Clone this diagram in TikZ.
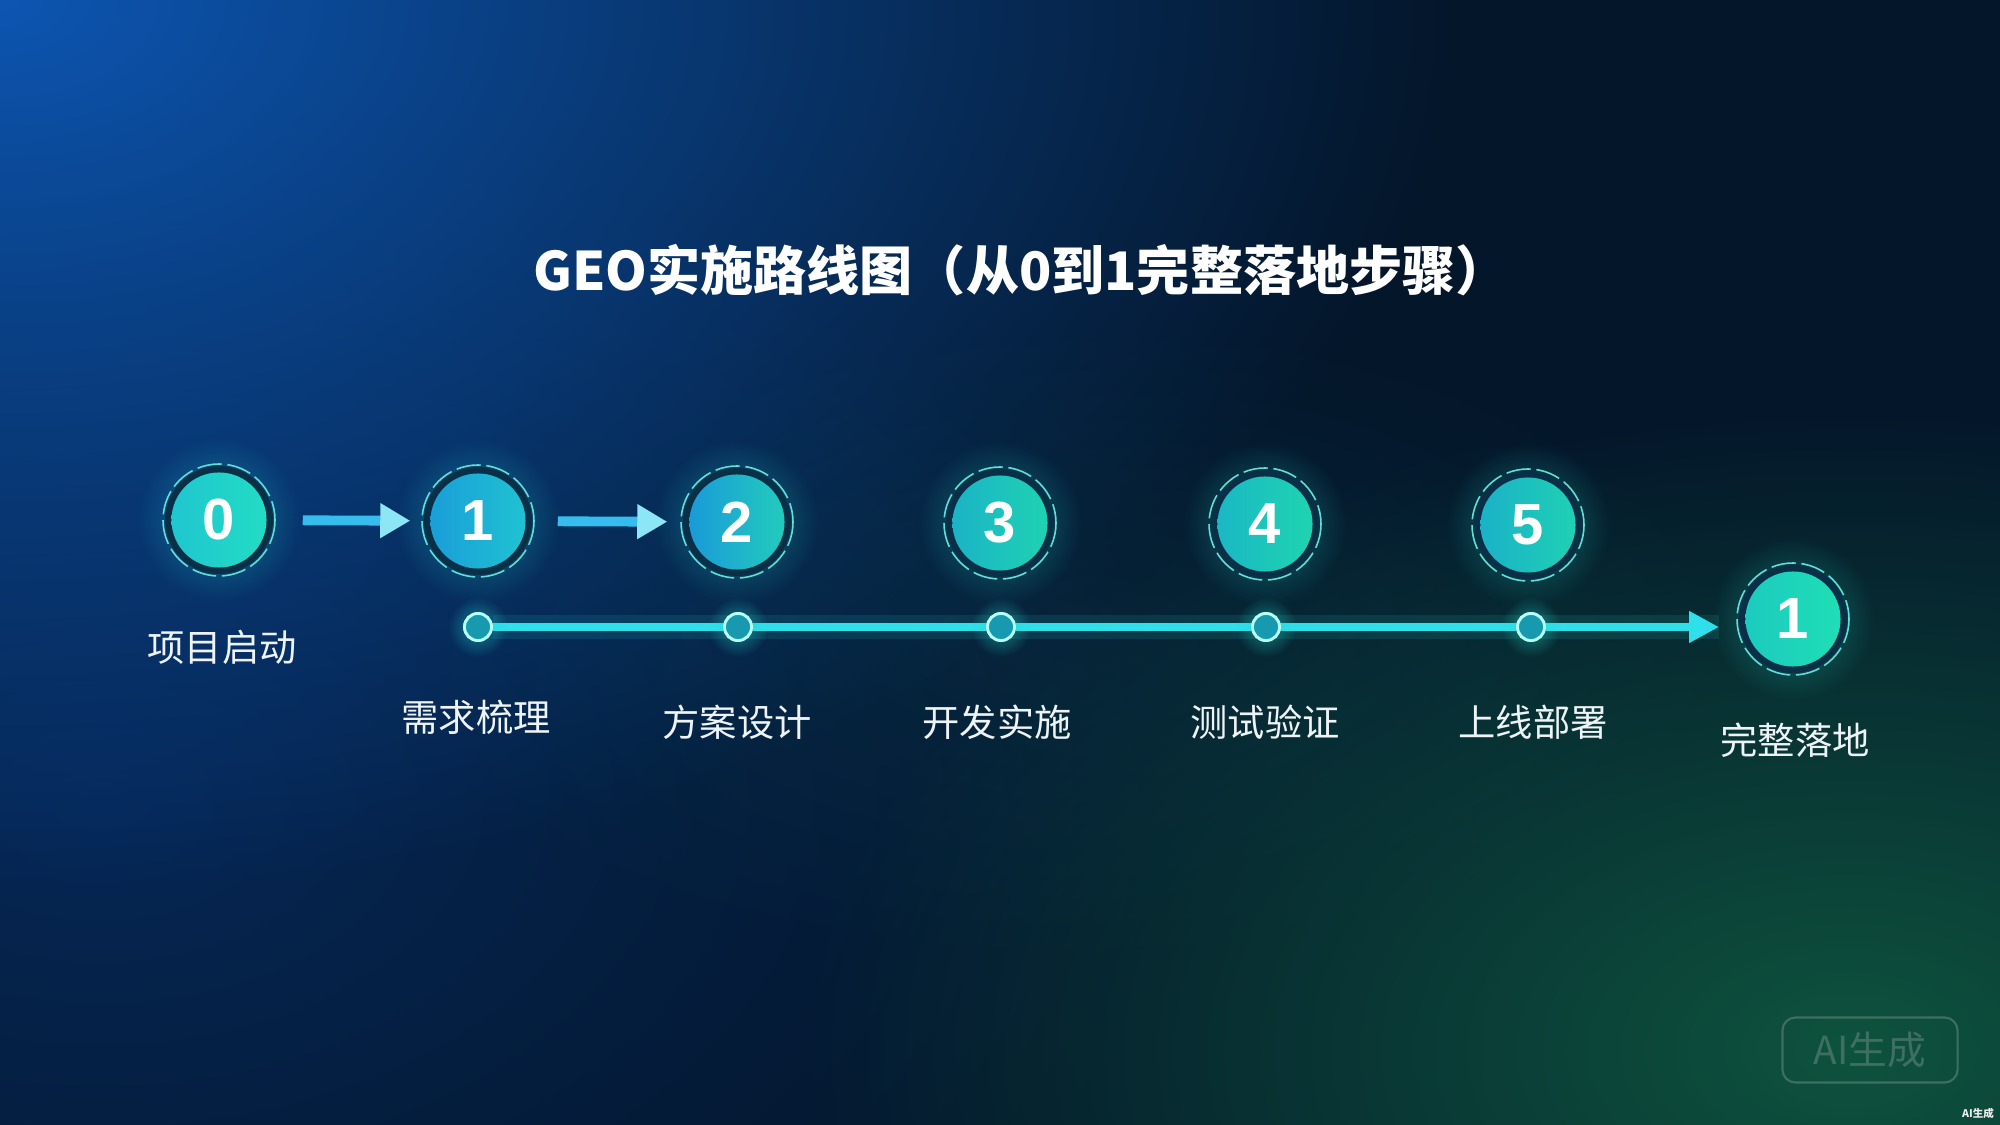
\documentclass[tikz,border=0pt]{standalone}
\usepackage{fontspec}
\setmainfont{Noto Sans CJK SC}
\newfontfamily\numfont{Liberation Sans}
\usetikzlibrary{fadings,arrows.meta,shadings}
\tikzfading[name=glowfade, inner color=transparent!0, outer color=transparent!100]
\definecolor{bgbase}{HTML}{04162A}
\definecolor{bgblue}{HTML}{0D56B2}
\definecolor{bgblue2}{HTML}{062B60}
\definecolor{bggreen}{HTML}{0F5A40}
\definecolor{bgteal}{HTML}{0B3E52}
\definecolor{ringdark}{HTML}{0A3048}
\definecolor{dashc}{HTML}{62DED6}
\definecolor{linec}{HTML}{2FE0EA}
\definecolor{glowc}{HTML}{22D8D0}
\definecolor{dotfill}{HTML}{179AB0}
\definecolor{dotring}{HTML}{B8FFF6}
\definecolor{labelc}{HTML}{EEF4F6}
\definecolor{wmark}{HTML}{3E6F60}
\definecolor{arrowc}{HTML}{36BDEE}
\definecolor{arrowhead}{HTML}{8CE6F6}
\tikzset{
  glow/.style={fill=glowc, path fading=glowfade, opacity=0.4},
  ringbg/.style={fill=ringdark},
  dashring/.style={draw=dashc, line width=0.45pt, dash pattern=on 7pt off 1.6pt},
  stepdisc/.style={circle, minimum size=0.95cm, inner sep=0pt, text=white,
     font=\numfont\bfseries\fontsize{16.5}{16.5}\selectfont},
  dotnode/.style={circle, minimum size=0.27cm, inner sep=0pt, fill=dotfill, draw=dotring, line width=0.8pt},
  steplabel/.style={text=labelc, font=\fontsize{10.6}{12}\selectfont, inner sep=0pt},
  toparrow/.style={draw=arrowc, line width=2.8pt, -{Triangle[length=0.3cm, width=0.33cm, color=arrowhead]}},
}
\begin{document}
\begin{tikzpicture}[x=0.01cm, y=-0.01cm]
% background
\fill[bgbase] (0,0) rectangle (2000,1125);
\useasboundingbox (0,0) rectangle (2000,1125);
\fill[bgblue2, path fading=glowfade, opacity=0.8] (100,800) ellipse (1100 and 700);
\fill[bgblue, path fading=glowfade] (0,0) ellipse (1450 and 900);
\fill[bgteal, path fading=glowfade, opacity=0.35] (1050,640) ellipse (700 and 330);
\fill[bggreen, path fading=glowfade, opacity=0.9] (1850,1050) ellipse (1050 and 650);

% title
\node[text=white, font=\bfseries\fontsize{15.1}{16}\selectfont, inner sep=0pt] (title) at (1021,270) {GEO实施路线图（从0到1完整落地步骤）};

% circles
\foreach \n/\x/\y/\lc/\rc/\num in {c0/219/520/1FC6CF/22DCC4/0, c1/478/521/1A9ED8/1FC2D2/1, c2/737/522/1A9BD8/22CBBD/2, c3/1000/523/1AB4C6/1FD2B2/3, c4/1265/524/1AB8C4/1FD4B0/4, c5/1528/525/1AB2C8/1FD0B4/5, cf/1793/619/1CCBC0/1FDEB4/1}{
  \fill[glow] (\x,\y) circle (82);
  \fill[ringbg] (\x,\y) circle (54);
  \draw[dashring] (\x,\y) circle (56);
  \definecolor{lcol}{HTML}{\lc}\definecolor{rcol}{HTML}{\rc}
  \node[stepdisc, left color=lcol, right color=rcol] (\n) at (\x,\y) {\num};
}

% top arrows
\draw[toparrow, shorten <=0.355cm, shorten >=0.195cm] (c0) -- (c1);
\draw[toparrow, shorten <=0.315cm, shorten >=0.215cm] (c1) -- (c2);

% timeline
\coordinate (tlend) at (1719,627);
\node[dotnode] (d1) at (478,627) {};
\node[dotnode] (d2) at (738,627) {};
\node[dotnode] (d3) at (1001,627) {};
\node[dotnode] (d4) at (1266,627) {};
\node[dotnode] (d5) at (1531,627) {};
\draw[glowc, line width=7pt, opacity=0.12] (d1) -- (tlend);
\draw[linec, line width=2.3pt] (d1) -- (d2);
\draw[linec, line width=2.3pt] (d2) -- (d3);
\draw[linec, line width=2.3pt] (d3) -- (d4);
\draw[linec, line width=2.3pt] (d4) -- (d5);
\draw[linec, line width=2.3pt, -{Triangle[length=0.3cm, width=0.3cm]}] (d5) -- (tlend);
\foreach \d in {d1,d2,d3,d4,d5}{
  \fill[glow, opacity=0.5] (\d) circle (30);
}
\node[dotnode] at (d1) {};
\node[dotnode] at (d2) {};
\node[dotnode] at (d3) {};
\node[dotnode] at (d4) {};
\node[dotnode] at (d5) {};

% labels
\node[steplabel] (l0) at (222,647) {项目启动};
\node[steplabel] (l1) at (476,717) {需求梳理};
\node[steplabel] (l2) at (737,722) {方案设计};
\node[steplabel] (l3) at (997,722) {开发实施};
\node[steplabel] (l4) at (1265,722) {测试验证};
\node[steplabel] (l5) at (1533,722) {上线部署};
\node[steplabel] (lf) at (1795,740) {完整落地};

% watermark
\node[draw=wmark, line width=0.6pt, rounded corners=0.13cm, minimum width=1.75cm, minimum height=0.65cm, text=wmark, font=\fontsize{11}{12}\selectfont, inner sep=0pt] (wm) at (1870,1050) {AI生成};
\node[text=white!85!gray, font=\bfseries\fontsize{3}{3}\selectfont, inner sep=0pt] (wm2) at (1978,1113) {AI生成};
\end{tikzpicture}
\end{document}
